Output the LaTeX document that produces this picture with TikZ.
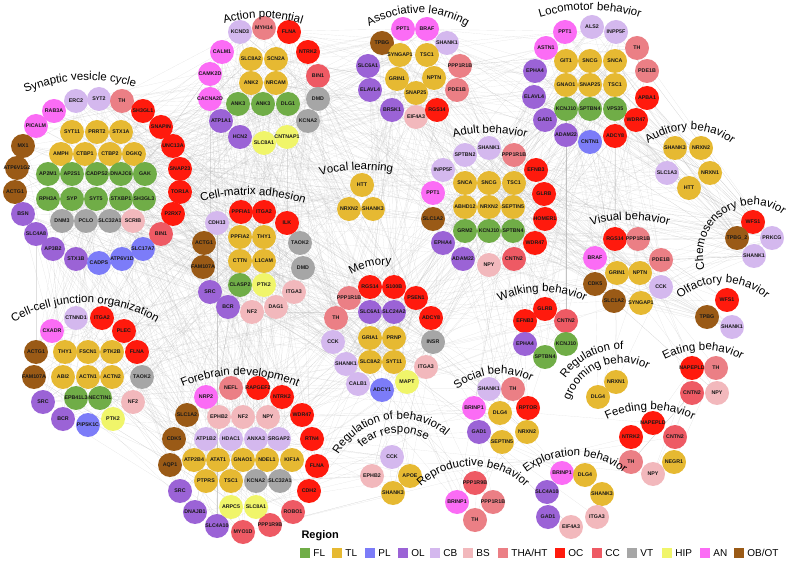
\documentclass[tikz,border=0pt]{standalone}
\usepackage{fontspec}
\setmainfont{Liberation Sans}
\usetikzlibrary{decorations.text,backgrounds}

% region colours
\definecolor{fl}{HTML}{70AD47}
\definecolor{tl}{HTML}{E6B932}
\definecolor{pl}{HTML}{7C7CF8}
\definecolor{ol}{HTML}{9B63D6}
\definecolor{cb}{HTML}{D4B8EE}
\definecolor{bs}{HTML}{F2B8BC}
\definecolor{tha}{HTML}{EB7F85}
\definecolor{oc}{HTML}{FF1A0D}
\definecolor{cc}{HTML}{EE5A64}
\definecolor{vt}{HTML}{A6A6A6}
\definecolor{hip}{HTML}{F0F56A}
\definecolor{an}{HTML}{FB6CF5}
\definecolor{ob}{HTML}{9A5A16}

\newcommand\titlefont{\fontsize{11.5}{12}\selectfont}

\tikzset{
  gene/.style={circle, fill=#1, minimum size=24pt, inner sep=0pt,
    font=\bfseries\fontsize{5.3}{5.5}\selectfont, text=black!90},
  edge/.style={draw=black!30, line width=0.15pt, opacity=0.4},
  legbox/.style={minimum size=10pt, inner sep=0pt},
}

% one cluster of genes: prefix, list x/y/label/region
\newcommand\genecluster[2]{%
  \foreach \x/\y/\g/\c [count=\i] in {#2}
    \node[gene=\c] (#1\i) at (\x,-\y) {\makebox[0pt]{\g}};}

% random grey ties between two clusters
\newcommand\tielinks[5]{%
  \foreach \k in {1,...,#5}{%
    \pgfmathrandominteger{\ia}{1}{#2}%
    \pgfmathrandominteger{\ib}{1}{#4}%
    \draw[edge] (#1\ia) -- (#3\ib);}}

% curved title: centre x, centre y, radius, mid angle, text
\newcommand\grouptitle[5]{%
  \path[decorate, decoration={text along path, text align=center,
      text={|\titlefont|#5}}]
    ([shift={({#4+80}:#3)}]#1,-#2) arc[start angle={#4+80}, end angle={#4-80}, radius=#3];}

\begin{document}
\begin{tikzpicture}[x=1pt, y=1pt]
  \useasboundingbox (0,0) rectangle (790,-561);

  % synaptic vesicle cycle
  \genecluster{svc}{76/101/ERC2/cb, 99/99/SYT2/cb, 122/101/TH/tha, 54/111/RAB3A/an, 36/126/PICALM/an,
    143/111/SH3GL1/oc, 161/127/SNAPIN/oc, 173/146/UNC13A/oc, 180/169/SNAP23/oc, 23/146/MX1/ob,
    17/168/ATP6V1G2/ob, 15/192/ACTG1/ob, 180/192/TOR1A/oc, 173/214/P2RX7/oc, 23/214/BSN/ol,
    36/234/SLC4A8/ol, 161/234/BIN1/cc, 53/249/AP3B2/ol, 76/259/STX1B/ol, 99/263/CADPS/pl,
    122/259/ATP6V1D/pl, 143/249/SLC17A7/pl, 72/132/SYT11/tl, 97/132/PRRT2/tl, 121/132/STX1A/tl,
    61/154/AMPH/tl, 85/154/CTBP1/tl, 110/154/CTBP2/tl, 134/154/DGKQ/tl, 48/174/AP2M1/fl,
    72/174/AP2S1/fl, 97/174/CADPS2/fl, 121/174/DNAJC6/fl, 145/174/GAK/fl, 48/199/RPH3A/fl,
    72/199/SYP/fl, 96/199/SYT5/fl, 121/199/STXBP1/fl, 144/199/SH3GL3/fl, 62/221/DNM3/vt,
    86/221/PCLO/vt, 110/221/SLC32A1/vt, 133/221/SCRIB/bs}

  % action potential
  \genecluster{ap}{240/32/KCND3/cb, 264/28/MYH14/tha, 289/32/FLNA/oc, 222/52/CALM1/an, 308/52/NTRK2/oc,
    210/74/CAMK2D/an, 318/76/BIN1/cc, 210/99/CACNA2D/an, 318/99/DMD/vt, 221/121/ATP1A1/ol,
    308/121/KCNA2/vt, 240/137/HCN2/ol, 264/143/SLC8A1/hip, 287/137/CNTNAP1/hip, 251/59/SLC8A2/tl,
    276/59/SCN2A/tl, 251/83/ANK2/tl, 276/83/NRCAM/tl, 238/104/ANK3/fl, 263/104/ANK3/fl, 288/104/DLG1/fl}

  % associative learning
  \genecluster{al}{382/43/TPBG/ob, 403/29/PPT1/an, 427/29/BRAF/an, 447/43/SHANK1/cb, 368/66/SLC6A1/ol,
    400/55/SYNGAP1/tl, 427/55/TSC1/tl, 460/66/PPP1R1B/tha, 370/90/ELAVL4/ol, 397/79/GRIN1/tl,
    434/78/NPTN/tl, 457/90/PDE1B/tha, 392/110/BRSK1/ol, 416/93/SNAP25/tl, 416/117/EIF4A3/bs, 437/110/RGS14/oc}

  % locomotor behavior
  \genecluster{loc}{565/32/PPT1/an, 592/27/ALS2/cb, 616/32/INPP5F/cb, 546/48/ASTN1/an, 637/48/TH/tha,
    566/61/GIT1/tl, 590/61/SNCG/tl, 615/61/SNCA/tl, 647/71/PDE1B/tha, 535/71/EPHA4/ol,
    566/85/GNAO1/tl, 590/85/SNAP25/tl, 615/85/TSC1/tl, 647/98/APBA1/oc, 534/97/ELAVL4/ol,
    566/109/KCNJ10/fl, 590/109/SPTBN4/fl, 615/109/VPS35/fl, 636/120/WDR47/oc, 545/120/GAD1/ol,
    566/135/ADAM22/ol, 590/142/CNTN1/pl, 615/136/ADCY8/oc}

  % small behaviour groups
  \genecluster{aud}{675/148/SHANK3/tl, 701/148/NRXN2/tl, 667/173/SLC1A3/cb, 710/173/NRXN1/tl, 689/188/HTT/tl}
  \genecluster{chem}{753/222/WFS1/oc, 737/238/TPBG\_2/ob, 772/238/PRKCG/cb, 754/256/SHANK1/cb}
  \genecluster{vis}{615/239/RGS14/oc, 638/239/PPP1R1B/tha, 595/258/BRAF/an, 661/260/PDE1B/tha,
    617/273/GRIN1/tl, 640/273/NPTN/tl, 595/284/CDK5/ob, 661/287/CCK/cb, 614/301/SLC1A2/ob, 641/303/SYNGAP1/tl}
  \genecluster{olf}{727/300/WFS1/oc, 707/317/TPBG/ob, 732/327/SHANK1/cb}
  \genecluster{eat}{692/368/NAPEPLD/oc, 716/368/TH/tha, 692/393/CNTN2/cc, 717/393/NPY/bs}
  \genecluster{feed}{653/423/NAPEPLD/oc, 631/437/NTRK2/oc, 675/437/CNTN2/cc, 631/462/TH/tha,
    674/462/NEGR1/tl, 653/474/NPY/bs}
  \genecluster{groom}{616/382/NRXN1/tl, 598/397/DLG4/tl}
  \genecluster{soc}{489/389/SHANK1/cb, 513/389/TH/tha, 474/408/BRINP1/an, 500/413/DLG4/tl, 528/408/RPTOR/oc,
    479/432/GAD1/ol, 527/432/NRXN2/tl, 502/442/SEPTIN5/tl}
  \genecluster{rep}{475/483/PPP1R9B/cc, 457/502/BRINP1/an, 493/502/PPP1R1B/tha, 475/520/TH/tha}
  \genecluster{exp}{562/473/BRINP1/an, 585/475/DLG4/tl, 602/494/SHANK3/tl, 547/492/SLC4A10/ol,
    597/517/ITGA3/bs, 548/517/GAD1/ol, 571/527/EIF4A3/bs}
  \genecluster{fear}{392/457/CCK/cb, 372/476/EPHB2/bs, 410/476/APOE/tl, 393/493/SHANK3/tl}
  \genecluster{voc}{362/185/HTT/tl, 349/209/NRXN2/tl, 373/209/SHANK3/tl}
  \genecluster{walk}{545/309/GLRB/oc, 525/321/EFNB3/oc, 566/321/CNTN2/cc, 525/344/EPHA4/ol,
    566/344/KCNJ10/fl, 545/357/SPTBN4/fl}

  % forebrain development
  \genecluster{fore}{206/397/NRP2/an, 231/388/NEFL/tha, 258/388/RAPGEF2/oc, 282/397/NTRK2/oc, 302/415/WDR47/oc,
    187/415/SLC1A2/ob, 174/439/CDK5/ob, 170/465/AQP1/ob, 180/491/SRC/ol, 195/512/DNAJB1/ol,
    217/526/SLC4A10/ol, 243/532/MYO1D/cc, 270/525/PPP1R9B/cc, 293/512/ROBO1/cc, 309/491/CDH2/oc,
    317/466/FLNA/oc, 312/439/RTN4/oc, 219/417/EPHB2/bs, 243/417/NF2/bs, 268/417/NPY/bs,
    206/439/ATP1B2/cb, 231/439/HDAC1/cb, 256/439/ANXA3/cb, 279/439/SRGAP2/cb, 194/460/ATP2B4/tl,
    218/460/ATAT1/tl, 243/460/GNAO1/tl, 267/460/NDEL1/tl, 292/460/KIF1A/tl, 206/481/PTPRS/tl,
    231/481/TSC1/tl, 256/481/KCNA2/vt, 280/481/SLC32A1/vt, 231/507/ARPC5/hip, 256/507/SLC8A1/hip}

  % cell-matrix adhesion
  \genecluster{cma}{241/212/PPFIA1/oc, 264/212/ITGA2/oc, 217/223/CDH13/cb, 287/223/ILK/oc, 240/237/PPFIA2/tl,
    264/237/THY1/tl, 204/243/ACTG1/ob, 300/243/TAOK2/vt, 240/261/CTTN/tl, 264/261/L1CAM/tl,
    203/267/FAM107A/ob, 303/268/DMD/vt, 240/285/CLASP2/fl, 264/285/PTK2/hip, 210/292/SRC/ol,
    294/292/ITGA3/bs, 228/307/BCR/ol, 252/312/NF2/bs, 276/307/DAG1/bs}

  % cell-cell junction organization
  \genecluster{ccj}{76/318/CTNND1/cb, 102/318/ITGA2/oc, 52/331/CXADR/an, 124/331/PLEC/oc, 36/352/ACTG1/ob,
    65/352/THY1/tl, 88/352/FSCN1/tl, 112/352/PTK2B/tl, 137/352/FLNA/oc, 34/377/FAM107A/ob,
    63/377/ABI2/tl, 88/377/ACTN1/tl, 112/377/ACTN2/tl, 142/377/TAOK2/vt, 43/402/SRC/ol,
    76/398/EPB41L3/fl, 100/398/NECTIN1/fl, 133/402/NF2/bs, 63/419/BCR/ol, 88/425/PIP5K1C/pl, 113/419/PTK2/hip}

  % memory
  \genecluster{mem}{370/287/RGS14/oc, 394/287/S100B/oc, 416/298/PSEN1/oc, 349/298/PPP1R1B/tha, 336/318/TH/tha,
    431/318/ADCY8/oc, 370/312/SLC6A1/ol, 394/312/SLC24A2/ol, 433/342/INSR/vt, 333/342/CCK/cb,
    370/338/GRIA1/tl, 394/338/PRNP/tl, 370/362/SLC8A2/tl, 394/362/SYT11/tl, 426/367/ITGA3/bs,
    346/364/SHANK1/cb, 407/382/MAPT/hip, 382/390/ADCY1/pl, 358/384/CALB1/cb}

  % adult behavior
  \genecluster{adult}{465/155/SPTBN2/cb, 489/148/SHANK1/cb, 514/155/PPP1R1B/tha, 443/170/INPP5F/cb,
    536/170/EFNB3/oc, 433/193/PPT1/an, 465/183/SNCA/tl, 489/183/SNCG/tl, 514/183/TSC1/tl,
    544/194/GLRB/oc, 433/219/SLC1A2/ob, 465/207/ABHD12/tl, 489/207/NRXN2/tl, 513/207/SEPTIN5/tl,
    545/219/HOMER1/oc, 465/231/GRM2/fl, 489/231/KCNJ10/fl, 513/231/SPTBN4/fl, 443/243/EPHA4/ol,
    535/243/WDR47/oc, 463/259/ADAM22/ol, 489/265/NPY/bs, 514/259/CNTN2/cc}

  % grey ties behind the clusters
  \begin{scope}[on background layer]
    \pgfmathsetseed{7}
    \tielinks{svc}{43}{ap}{21}{60}    \tielinks{svc}{43}{cma}{19}{80}
    \tielinks{svc}{43}{ccj}{21}{50}   \tielinks{svc}{43}{mem}{19}{60}
    \tielinks{svc}{43}{fore}{35}{60}  \tielinks{svc}{43}{al}{16}{30}
    \tielinks{svc}{43}{voc}{3}{20}    \tielinks{svc}{43}{adult}{23}{30}
    \tielinks{ap}{21}{cma}{19}{50}    \tielinks{ap}{21}{al}{16}{40}
    \tielinks{ap}{21}{mem}{19}{40}    \tielinks{ap}{21}{fore}{35}{30}
    \tielinks{ap}{21}{voc}{3}{15}     \tielinks{ap}{21}{adult}{23}{25}
    \tielinks{al}{16}{loc}{23}{40}    \tielinks{al}{16}{adult}{23}{40}
    \tielinks{al}{16}{mem}{19}{30}    \tielinks{al}{16}{vis}{10}{20}
    \tielinks{al}{16}{voc}{3}{10}     \tielinks{loc}{23}{adult}{23}{50}
    \tielinks{loc}{23}{aud}{5}{25}    \tielinks{loc}{23}{chem}{4}{30}
    \tielinks{loc}{23}{vis}{10}{30}   \tielinks{loc}{23}{walk}{6}{15}
    \tielinks{loc}{23}{mem}{19}{20}   \tielinks{adult}{23}{vis}{10}{30}
    \tielinks{adult}{23}{chem}{4}{25} \tielinks{adult}{23}{walk}{6}{20}
    \tielinks{adult}{23}{mem}{19}{40} \tielinks{adult}{23}{soc}{8}{15}
    \tielinks{adult}{23}{aud}{5}{15}  \tielinks{adult}{23}{olf}{3}{15}
    \tielinks{cma}{19}{fore}{35}{50}  \tielinks{cma}{19}{ccj}{21}{40}
    \tielinks{cma}{19}{mem}{19}{40}   \tielinks{cma}{19}{voc}{3}{10}
    \tielinks{ccj}{21}{fore}{35}{40}  \tielinks{ccj}{21}{mem}{19}{15}
    \tielinks{fore}{35}{mem}{19}{40}  \tielinks{fore}{35}{fear}{4}{15}
    \tielinks{fore}{35}{soc}{8}{10}   \tielinks{fore}{35}{feed}{6}{5}
    \tielinks{mem}{19}{soc}{8}{15}    \tielinks{mem}{19}{fear}{4}{10}
    \tielinks{mem}{19}{rep}{4}{8}     \tielinks{mem}{19}{vis}{10}{15}
    \tielinks{mem}{19}{walk}{6}{10}   \tielinks{vis}{10}{chem}{4}{15}
    \tielinks{vis}{10}{olf}{3}{10}    \tielinks{vis}{10}{eat}{4}{8}
    \tielinks{vis}{10}{groom}{2}{5}   \tielinks{soc}{8}{exp}{7}{8}
    \tielinks{soc}{8}{rep}{4}{6}      \tielinks{soc}{8}{walk}{6}{8}
    \tielinks{feed}{6}{eat}{4}{8}     \tielinks{aud}{5}{chem}{4}{10}
  \end{scope}

  % group titles
  \grouptitle{88}{235}{155}{93}{Synaptic vesicle cycle}
  \grouptitle{263}{148}{130}{90}{Action potential}
  \grouptitle{418}{110}{97}{90}{Associative learning}
  \grouptitle{590}{180}{170}{90}{Locomotor behavior}
  \grouptitle{690}{200}{70}{90}{Auditory behavior}
  \grouptitle{753}{255}{50}{125}{Chemosensory behavior}
  \grouptitle{630}{370}{150}{90}{Visual behavior}
  \grouptitle{723}{348}{65}{90}{Olfactory behavior}
  \grouptitle{703}{432}{82}{90}{Eating behavior}
  \grouptitle{650}{510}{100}{90}{Feeding behavior}
  \grouptitle{500}{442}{68}{96}{Social behavior}
  \grouptitle{473}{541}{75}{90}{Reproductive behavior}
  \grouptitle{575}{534}{78}{90}{Exploration behavior}
  \grouptitle{542}{395}{103}{90}{Walking behavior}
  \grouptitle{240}{518}{143}{90}{Forebrain development}
  \grouptitle{85}{446}{143}{90}{Cell-cell junction organization}
  \grouptitle{250}{370}{175}{89}{Cell-matrix adhesion}
  \grouptitle{362}{335}{165}{92}{Vocal learning}
  \grouptitle{385}{330}{65}{103}{Memory}
  \grouptitle{490}{273}{140}{90}{Adult behavior}
  \grouptitle{400}{490}{71}{100}{Regulation of behavioral}
  \grouptitle{400}{490}{57}{97}{fear response}
  \grouptitle{622}{418}{69}{117}{Regulation of}
  \grouptitle{622}{418}{55}{112}{grooming behavior}

  % legend
  \node[anchor=west, font=\bfseries\fontsize{11}{11}\selectfont] (legtitle) at (298,-536) {Region};
  \foreach \c/\x/\l in {fl/305/FL, tl/337/TL, pl/370/PL, ol/403/OL, cb/435/CB, bs/468/BS,
      tha/503/{THA/HT}, oc/560/OC, cc/597/CC, vt/632/VT, hip/667/HIP, an/705/AN, ob/739/{OB/OT}}{
    \node[legbox, fill=\c] (sq\c) at (\x,-553) {};
    \node[anchor=west, inner sep=0pt, font=\fontsize{10}{10}\selectfont] (lab\c) at ([xshift=3pt]sq\c.east) {\l};
  }
\end{tikzpicture}
\end{document}
